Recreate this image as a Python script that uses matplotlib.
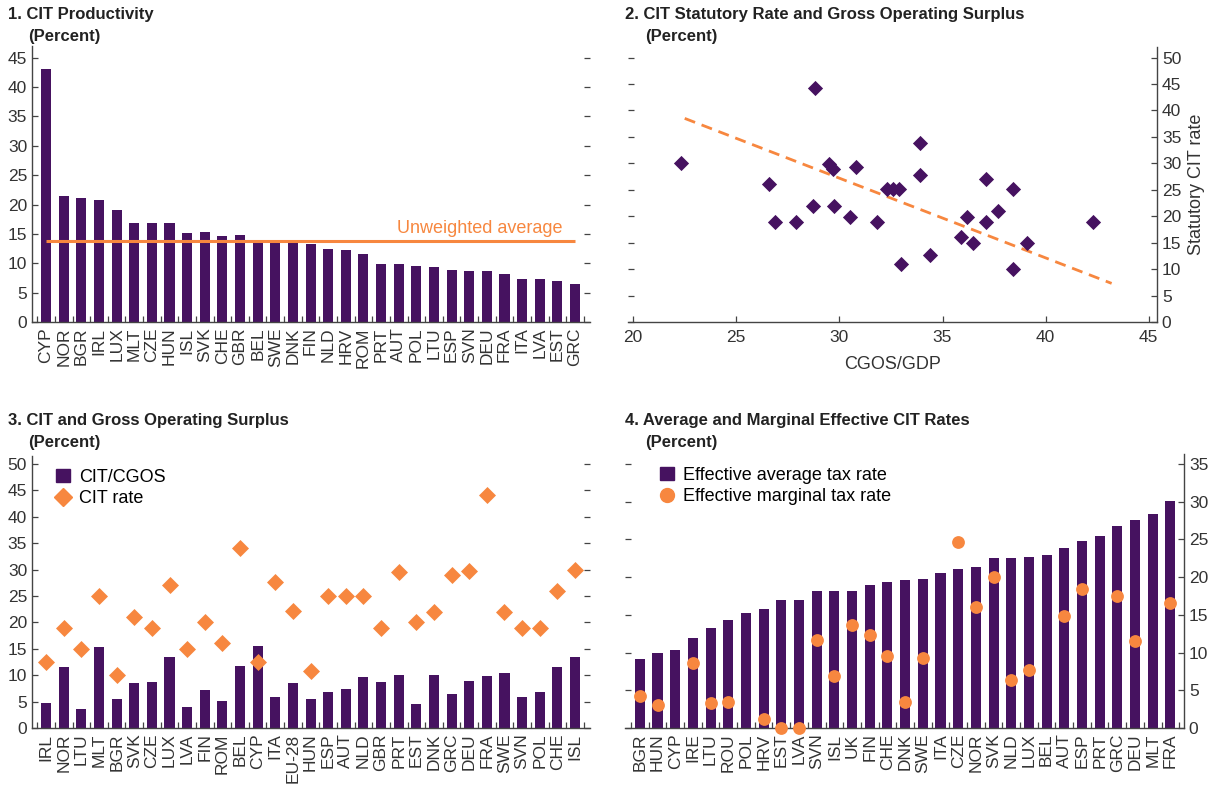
import numpy as np
import matplotlib
matplotlib.use("Agg")
import matplotlib.pyplot as plt
from matplotlib.lines import Line2D
from matplotlib.patches import Patch

plt.rcParams["font.family"] = ["Liberation Sans", "DejaVu Sans"]

PURPLE = "#461260"
ORANGE = "#F7873F"
GREY = "#444444"

# ── Data ──────────────────────────────────────────────────────────────────────

# 1. CIT productivity
p1_countries = ["CYP", "NOR", "BGR", "IRL", "LUX", "MLT", "CZE", "HUN", "ISL", "SVK",
                "CHE", "GBR", "BEL", "SWE", "DNK", "FIN", "NLD", "HRV", "ROM", "PRT",
                "AUT", "POL", "LTU", "ESP", "SVN", "DEU", "FRA", "ITA", "LVA", "EST", "GRC"]
p1_values = [43.0, 21.4, 21.2, 20.7, 19.1, 16.9, 16.9, 16.9, 15.1, 15.4,
             14.7, 14.9, 13.7, 13.6, 13.6, 13.2, 12.5, 12.3, 11.6, 9.8,
             9.8, 9.6, 9.3, 8.9, 8.75, 8.75, 8.2, 7.4, 7.4, 7.05, 6.5]
p1_average = 13.8

# 2. Statutory rate vs gross operating surplus
p2_cgos = [22.3, 28.8, 26.6, 26.9, 27.9, 28.7, 29.5, 29.7, 29.75, 30.5,
           30.8, 31.8, 32.3, 32.6, 32.9, 33.0, 33.9, 33.9, 34.4, 35.9,
           36.2, 36.5, 37.1, 37.1, 37.7, 38.4, 38.4, 39.1, 42.3]
p2_rate = [30.0, 44.3, 26.1, 19.0, 19.0, 22.0, 29.9, 28.9, 22.0, 19.9,
           29.4, 19.0, 25.1, 25.1, 25.1, 10.9, 33.9, 27.8, 12.6, 16.0,
           19.9, 15.0, 27.1, 19.0, 21.0, 25.1, 10.0, 15.0, 19.0]
p2_trend_x = [22.5, 43.2]
p2_trend_y = [38.5, 7.3]

# 3. CIT and gross operating surplus
p3_countries = ["IRL", "NOR", "LTU", "MLT", "BGR", "SVK", "CZE", "LUX", "LVA", "FIN",
                "ROM", "BEL", "CYP", "ITA", "EU-28", "HUN", "ESP", "AUT", "NLD", "GBR",
                "PRT", "EST", "DNK", "GRC", "DEU", "FRA", "SWE", "SVN", "POL", "CHE", "ISL"]
p3_cit_cgos = [4.7, 11.5, 3.6, 15.3, 5.5, 8.5, 8.7, 13.4, 4.0, 7.2,
               5.1, 11.7, 15.5, 5.8, 8.5, 5.5, 6.8, 7.4, 9.6, 8.7,
               10.0, 4.5, 10.0, 6.4, 8.9, 9.8, 10.4, 5.8, 6.8, 11.5, 13.4]
p3_cit_rate = [12.5, 19.0, 15.0, 25.0, 10.0, 21.0, 19.0, 27.0, 15.0, 20.0,
               16.0, 34.0, 12.5, 27.7, 22.2, 10.8, 25.0, 25.0, 25.0, 19.0,
               29.5, 20.0, 22.0, 29.0, 29.8, 44.2, 22.0, 19.0, 19.0, 26.0, 30.0]

# 4. Average and marginal effective CIT rates
p4_countries = ["BGR", "HUN", "CYP", "IRE", "LTU", "ROU", "POL", "HRV", "EST", "LVA",
                "SVN", "ISL", "UK", "FIN", "CHE", "DNK", "SWE", "ITA", "CZE", "NOR",
                "SVK", "NLD", "LUX", "BEL", "AUT", "ESP", "PRT", "GRC", "DEU", "MLT", "FRA"]
p4_eatr = [9.1, 9.9, 10.3, 11.9, 13.2, 14.3, 15.2, 15.7, 16.9, 16.9,
           18.1, 18.1, 18.2, 19.0, 19.4, 19.6, 19.7, 20.6, 21.1, 21.3,
           22.5, 22.5, 22.6, 22.9, 23.8, 24.8, 25.5, 26.7, 27.5, 28.4, 30.1]
p4_emtr = [4.3, 3.1, np.nan, 8.6, 3.3, 3.4, np.nan, 1.2, 0.0, 0.0,
           11.7, 6.9, 13.6, 12.3, 9.5, 3.4, 9.3, np.nan, 24.7, 16.0,
           20.0, 6.4, 7.7, np.nan, 14.9, 18.4, np.nan, 17.5, 11.5, np.nan, 16.6]


# ── Helpers ───────────────────────────────────────────────────────────────────

W, H = 1211, 789


def px_axes(fig, left, right, top, bottom):
    """Axes placed by pixel edges (top-left origin)."""
    return fig.add_axes([left / W, 1 - bottom / H, (right - left) / W, (bottom - top) / H])


def title(fig, x, y, main):
    fig.text(x / W, 1 - y / H, main, fontsize=12, fontweight="bold",
             va="center", ha="left", color="#222222")
    fig.text((x + 20) / W, 1 - (y + 23) / H, "(Percent)", fontsize=12,
             fontweight="bold", va="center", ha="left", color="#222222")


def style_axes(ax):
    for s in ax.spines.values():
        s.set_color(GREY)
        s.set_linewidth(1.0)
    ax.tick_params(axis="both", which="both", direction="in", color=GREY,
                   labelcolor="#333333", labelsize=12.5, length=4, width=0.9)


def bar_axis(ax, labels):
    n = len(labels)
    ax.set_xticks(range(n))
    ax.set_xticklabels(labels, rotation=90, fontsize=12.5)
    ax.tick_params(axis="x", which="major", length=0, pad=4)
    ax.set_xticks(np.arange(-0.5, n, 1), minor=True)
    ax.tick_params(axis="x", which="minor", length=4, direction="in")


fig = plt.figure(figsize=(W / 100, H / 100), dpi=100)

# ── Panel 1 ───────────────────────────────────────────────────────────────────
ax1 = px_axes(fig, 32, 590, 46, 322)
x1 = np.arange(len(p1_countries))
ax1.bar(x1, p1_values, width=0.57, color=PURPLE, zorder=2)
ax1.hlines(p1_average, 0, len(p1_countries) - 1, color=ORANGE, lw=2.2, zorder=3)
ax1.text(29.3, p1_average + 0.7, "Unweighted average", color=ORANGE,
         fontsize=13, ha="right", va="bottom")
ax1.set_xlim(-0.8, 30.85)
ax1.set_ylim(0, 47)
ax1.set_yticks(range(0, 50, 5))
style_axes(ax1)
bar_axis(ax1, p1_countries)
ax1.spines["top"].set_visible(False)
ax1.spines["right"].set_visible(False)
ax1.tick_params(axis="y", right=True, labelright=False)
title(fig, 8, 14, "1. CIT Productivity")

# ── Panel 2 ───────────────────────────────────────────────────────────────────
ax2 = px_axes(fig, 628, 1157, 47, 322)
ax2.scatter(p2_cgos, p2_rate, marker="D", s=60, color=PURPLE, zorder=3, linewidths=0)
ax2.plot(p2_trend_x, p2_trend_y, color=ORANGE, lw=2, ls=(0, (4, 2.5)), zorder=2)
ax2.set_xlim(19.75, 45.4)
ax2.set_ylim(0, 52)
ax2.set_xticks(range(20, 50, 5))
ax2.set_yticks(range(0, 55, 5))
style_axes(ax2)
ax2.spines["top"].set_visible(False)
ax2.spines["left"].set_visible(False)
ax2.yaxis.tick_right()
ax2.tick_params(axis="y", left=True, right=True, labelleft=False, labelright=True)
ax2.tick_params(axis="x", pad=6)
ax2.set_xlabel("CGOS/GDP", fontsize=13, color="#333333", labelpad=8)
ax2.yaxis.set_label_position("right")
ax2.set_ylabel("Statutory CIT rate", fontsize=13, color="#333333", labelpad=5)
title(fig, 625, 14, "2. CIT Statutory Rate and Gross Operating Surplus")

# ── Panel 3 ───────────────────────────────────────────────────────────────────
ax3 = px_axes(fig, 32, 590, 456, 728)
x3 = np.arange(len(p3_countries))
ax3.bar(x3, p3_cit_cgos, width=0.57, color=PURPLE, zorder=2)
ax3.scatter(x3, p3_cit_rate, marker="D", s=75, color=ORANGE, zorder=3, linewidths=0)
ax3.set_xlim(-0.8, 30.85)
ax3.set_ylim(0, 51.5)
ax3.set_yticks(range(0, 55, 5))
style_axes(ax3)
bar_axis(ax3, p3_countries)
ax3.spines["top"].set_visible(False)
ax3.spines["right"].set_visible(False)
ax3.tick_params(axis="y", right=True, labelright=False)
handles3 = [Patch(color=PURPLE, label="CIT/CGOS"),
            Line2D([], [], marker="D", ls="", color=ORANGE, markersize=9, label="CIT rate")]
ax3.legend(handles=handles3, loc="upper left", bbox_to_anchor=(0.02, 1.0), frameon=False,
           fontsize=13, handlelength=0.8, handletextpad=0.5, labelspacing=0.25,
           borderaxespad=0.3)
title(fig, 8, 420, "3. CIT and Gross Operating Surplus")

# ── Panel 4 ───────────────────────────────────────────────────────────────────
ax4 = px_axes(fig, 625, 1184, 454, 728)
x4 = np.arange(len(p4_countries))
ax4.bar(x4, p4_eatr, width=0.57, color=PURPLE, zorder=2)
ax4.scatter(x4, p4_emtr, marker="o", s=85, color=ORANGE, zorder=3, linewidths=0,
            clip_on=False)
ax4.set_xlim(-0.84, 30.77)
ax4.set_ylim(0, 36.3)
ax4.set_yticks(range(0, 40, 5))
style_axes(ax4)
bar_axis(ax4, p4_countries)
ax4.spines["top"].set_visible(False)
ax4.spines["left"].set_visible(False)
ax4.yaxis.tick_right()
ax4.tick_params(axis="y", left=True, right=True, labelleft=False, labelright=True)
handles4 = [Patch(color=PURPLE, label="Effective average tax rate"),
            Line2D([], [], marker="o", ls="", color=ORANGE, markersize=10,
                   label="Effective marginal tax rate")]
ax4.legend(handles=handles4, loc="upper left", bbox_to_anchor=(0.04, 1.0), frameon=False,
           fontsize=13, handlelength=0.8, handletextpad=0.5, labelspacing=0.25,
           borderaxespad=0.3)
title(fig, 625, 420, "4. Average and Marginal Effective CIT Rates")

fig.savefig("out.png", dpi=100)
plt.close(fig)
